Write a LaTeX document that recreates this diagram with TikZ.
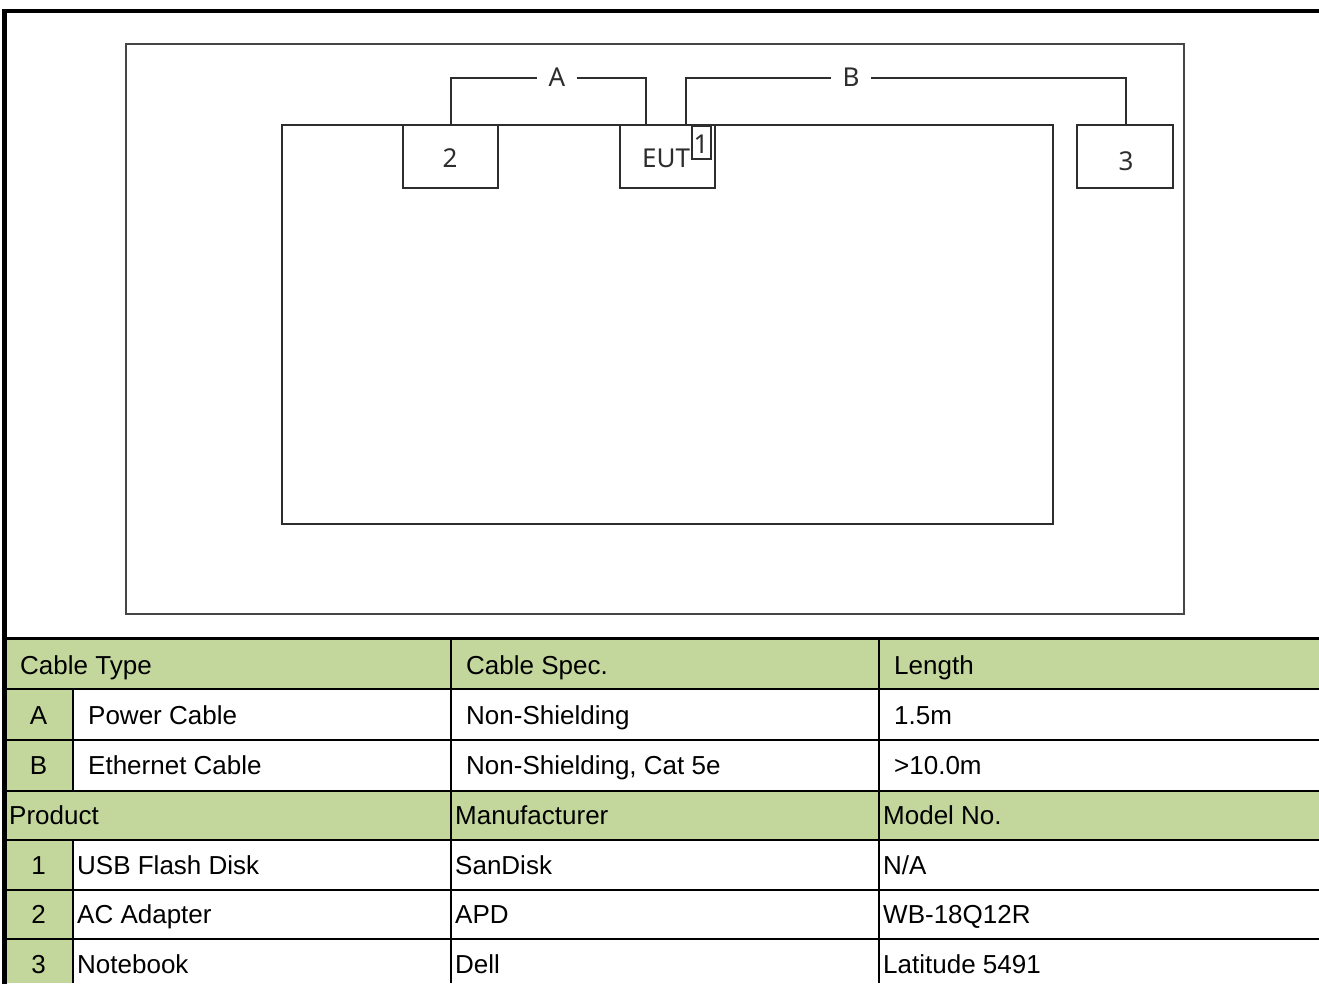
\documentclass[tikz,border=0pt]{standalone}
\usepackage{fontspec}
\setmainfont{Liberation Sans}
\newfontfamily\diagfont{Noto Sans}
\definecolor{hdrgreen}{RGB}{195,214,155}
\definecolor{linegray}{RGB}{45,45,45}
\definecolor{framegray}{RGB}{70,70,70}
\begin{document}
\begin{tikzpicture}[x=1pt,y=-1pt,
  box/.style={draw=linegray,line width=2pt,inner sep=0pt},
  cable/.style={draw=linegray,line width=2pt},
  dlbl/.style={font=\diagfont\fontsize{26}{30}\selectfont,text=linegray,inner sep=0pt,anchor=base},
  cablelbl/.style={font=\diagfont\fontsize{26}{30}\selectfont,text=linegray,fill=white,inner xsep=12pt,inner ysep=2pt,yshift=1pt},
  cell/.style={font=\fontsize{26}{30}\selectfont,inner sep=0pt,anchor=base west},
  cellc/.style={font=\fontsize{26}{30}\selectfont,inner sep=0pt,anchor=base},
  tline/.style={line width=2.2pt,black}]
\useasboundingbox (0,0) rectangle (1319,983);
\fill[white] (0,0) rectangle (1319,983);

% ---------- diagram ----------
\node[draw=framegray,line width=2pt,minimum width=1058pt,minimum height=570pt,inner sep=0pt] (frame) at (655,329) {};
\node[box,minimum width=771pt,minimum height=399pt] (area) at (667.5,324.5) {};
\node[box,fill=white,minimum width=95pt,minimum height=63pt] (adapter) at (450.5,156.5) {};
\node[dlbl] (adapterlbl) at (450,167) {2};
\node[box,fill=white,minimum width=95pt,minimum height=63pt] (eut) at (667.5,156.5) {};
\node[dlbl] (eutlbl) at (666,167) {EUT};
\node[box,line width=1.6pt,minimum width=19pt,minimum height=33pt] (usb) at (701.5,142.5) {};
\node[dlbl] (usblbl) at (701,153) {1};
\node[box,fill=white,minimum width=96pt,minimum height=63pt] (notebook) at (1125,156.5) {};
\node[dlbl] (notebooklbl) at (1126,170) {3};

\coordinate (eutA) at (646,125);
\coordinate (eutB) at (686,125);
\coordinate (topA) at (450.5,78);
\coordinate (topB) at (1126,78);
\draw[cable] (adapter.north) -- (topA) -- node[cablelbl,pos=0.545] (lblA) {A} (eutA |- topA) -- (eutA);
\draw[cable] (eutB) -- (eutB |- topB) -- node[cablelbl,pos=0.375] (lblB) {B} (topB) -- (topB |- notebook.north);

% ---------- table fills ----------
\fill[hdrgreen] (4,638) rectangle (1319,689);
\fill[hdrgreen] (4,791) rectangle (1319,840);
\fill[hdrgreen] (4,689) rectangle (73,791);
\fill[hdrgreen] (4,840) rectangle (73,983);

% ---------- table lines ----------
\foreach \yy in {689,740,791,840,890,939} \draw[tline] (4,\yy) -- (1319,\yy);
\draw[line width=3pt] (4,638) -- (1319,638);
\draw[tline] (451,638) -- (451,983);
\draw[tline] (879,638) -- (879,983);
\draw[tline] (73,689) -- (73,791);
\draw[tline] (73,840) -- (73,983);

% outer thick frame
\draw[line width=4.5pt,line cap=rect] (4.5,983) -- (4.5,11) -- (1319,11);

% ---------- table texts ----------
\node[cell] (h1a) at (20,674) {Cable Type};
\node[cell] (h1b) at (466,674) {Cable Spec.};
\node[cell] (h1c) at (894,674) {Length};

\node[cellc] (ra0) at (38.5,724) {A};
\node[cell] (ra1) at (88,724) {Power Cable};
\node[cell] (ra2) at (466,724) {Non-Shielding};
\node[cell] (ra3) at (894,724) {1.5m};

\node[cellc] (rb0) at (38.5,774) {B};
\node[cell] (rb1) at (88,774) {Ethernet Cable};
\node[cell] (rb2) at (466,774) {Non-Shielding, Cat 5e};
\node[cell] (rb3) at (894,774) {>10.0m};

\node[cell] (h2a) at (9,824) {Product};
\node[cell] (h2b) at (455,824) {Manufacturer};
\node[cell] (h2c) at (883,824) {Model No.};

\node[cellc] (p10) at (38.5,874) {1};
\node[cell] (p11) at (77,874) {USB Flash Disk};
\node[cell] (p12) at (455,874) {SanDisk};
\node[cell] (p13) at (883,874) {N/A};

\node[cellc] (p20) at (38.5,923) {2};
\node[cell] (p21) at (77,923) {AC Adapter};
\node[cell] (p22) at (455,923) {APD};
\node[cell] (p23) at (883,923) {WB-18Q12R};

\node[cellc] (p30) at (38.5,973) {3};
\node[cell] (p31) at (77,973) {Notebook};
\node[cell] (p32) at (455,973) {Dell};
\node[cell] (p33) at (883,973) {Latitude 5491};
\end{tikzpicture}
\end{document}
